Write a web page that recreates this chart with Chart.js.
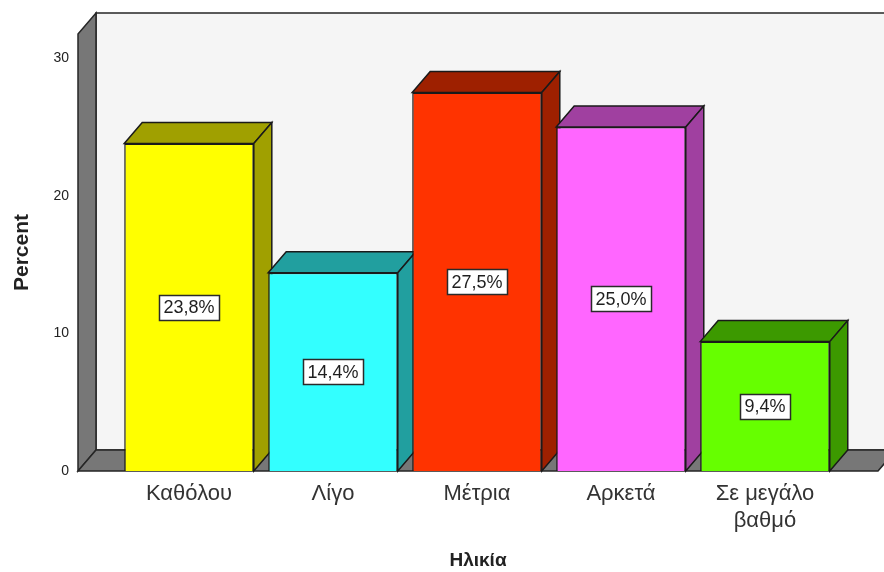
<!DOCTYPE html>
<html>
<head>
<meta charset="utf-8">
<script src="https://cdn.jsdelivr.net/npm/chart.js@4/dist/chart.umd.min.js"></script>
<style>
  html, body { margin: 0; padding: 0; background: #ffffff; }
  #wrap { width: 884px; height: 572px; }
</style>
</head>
<body>
<div id="wrap"><canvas id="c" width="884" height="572"></canvas></div>
<script>
// Response categories (multi-line where the label wraps)
const categories = [['Καθόλου'], ['Λίγο'], ['Μέτρια'], ['Αρκετά'], ['Σε μεγάλο', 'βαθμό']];
// Percent of respondents per category
const percentValues = [23.8, 14.4, 27.5, 25.0, 9.4];
// Value-axis tick labels
const yTicks = [0, 10, 20, 30];

// Front faces and darker top/side faces of each box
const frontColors = ['#ffff00', '#33ffff', '#ff3300', '#ff66ff', '#66ff00'];
const shadeColors = ['#a0a000', '#219f9f', '#9e2000', '#a040a0', '#3c9900'];

// Oblique depth of the 3D frame and boxes
const DX = 18, DY = 21;
const FONT = "'Liberation Sans', Arial, sans-serif";

function poly(ctx, pts, fill) {
  ctx.beginPath();
  ctx.moveTo(pts[0][0], pts[0][1]);
  for (let k = 1; k < pts.length; k++) ctx.lineTo(pts[k][0], pts[k][1]);
  ctx.closePath();
  ctx.fillStyle = fill;
  ctx.fill();
  ctx.stroke();
}

const box3d = {
  id: 'box3d',
  beforeDatasetsDraw(chart) {
    const { ctx, chartArea: a } = chart;
    ctx.save();
    ctx.lineJoin = 'miter';
    ctx.strokeStyle = '#262626';
    ctx.lineWidth = 1.5;
    // back wall
    ctx.beginPath();
    ctx.rect(a.left + DX, a.top - DY, a.right - a.left, a.bottom - a.top);
    ctx.fillStyle = '#f5f5f5';
    ctx.fill();
    ctx.stroke();
    // side wall and floor
    poly(ctx, [[a.left, a.top], [a.left + DX, a.top - DY], [a.left + DX, a.bottom - DY], [a.left, a.bottom]], '#777777');
    poly(ctx, [[a.left, a.bottom], [a.left + DX, a.bottom - DY], [a.right + DX, a.bottom - DY], [a.right, a.bottom]], '#777777');
    // top and right faces of every box
    ctx.lineWidth = 1.5;
    ctx.strokeStyle = '#1a1a1a';
    chart.getDatasetMeta(0).data.forEach((bar, i) => {
      const { x, y, base, width } = bar.getProps(['x', 'y', 'base', 'width'], true);
      const l = x - width / 2, r = x + width / 2;
      poly(ctx, [[l, y], [l + DX, y - DY], [r + DX, y - DY], [r, y]], shadeColors[i]);
      poly(ctx, [[r, y], [r + DX, y - DY], [r + DX, base - DY], [r, base]], shadeColors[i]);
    });
    ctx.restore();
  },
  afterDatasetsDraw(chart) {
    const { ctx } = chart;
    ctx.save();
    ctx.font = '18px ' + FONT;
    ctx.textAlign = 'center';
    ctx.textBaseline = 'middle';
    chart.getDatasetMeta(0).data.forEach((bar, i) => {
      const { x, y, base } = bar.getProps(['x', 'y', 'base'], true);
      const text = percentValues[i].toFixed(1).replace('.', ',') + '%';
      const w = Math.round(ctx.measureText(text).width + 9);
      const h = 25;
      const cy = (y + base) / 2;
      const bx = Math.round(x - w / 2) + 0.5, by = Math.round(cy - h / 2) + 0.5;
      ctx.fillStyle = '#ffffff';
      ctx.fillRect(bx, by, w, h);
      ctx.strokeStyle = '#2a2a2a';
      ctx.lineWidth = 1.5;
      ctx.strokeRect(bx, by, w, h);
      ctx.fillStyle = '#1e1e1e';
      ctx.fillText(text, x, cy + 1);
    });
    ctx.restore();
  }
};

new Chart(document.getElementById('c'), {
  type: 'bar',
  data: {
    datasets: [{
      data: categories.map((c, i) => ({ x: i, y: percentValues[i] })),
      backgroundColor: frontColors,
      borderColor: '#1a1a1a',
      borderWidth: 1.5,
      barPercentage: 0.9,
      categoryPercentage: 1
    }]
  },
  options: {
    responsive: false,
    animation: false,
    devicePixelRatio: 1,
    layout: { padding: { top: 34, right: 6, left: 0, bottom: 0 } },
    plugins: { legend: { display: false }, tooltip: { enabled: false } },
    scales: {
      x: {
        type: 'linear',
        offset: false,
        min: -0.771,
        max: 4.785,
        grid: { display: false, drawTicks: false, offset: false },
        border: { display: false },
        afterBuildTicks: s => { s.ticks = categories.map((c, i) => ({ value: i })); },
        afterFit: s => { s.height = 101; },
        ticks: {
          autoSkip: false,
          maxRotation: 0,
          padding: 10,
          color: '#333333',
          font: { family: FONT, size: 22 },
          callback: v => categories[v]
        },
        title: {
          display: true,
          text: 'Ηλικία',
          color: '#222222',
          font: { family: FONT, size: 19, weight: 'bold' },
          padding: { top: 0, bottom: 0 }
        }
      },
      y: {
        min: 0,
        max: 31.75,
        grid: { display: false, drawTicks: false },
        border: { display: false },
        afterBuildTicks: s => { s.ticks = yTicks.map(v => ({ value: v })); },
        afterFit: s => { s.width = 78; },
        ticks: {
          padding: 9,
          color: '#222222',
          font: { family: FONT, size: 14 }
        },
        title: {
          display: true,
          text: 'Percent',
          color: '#222222',
          font: { family: FONT, size: 21, weight: 'bold' },
          padding: { top: 10, bottom: 0 }
        }
      }
    }
  },
  plugins: [box3d]
});
</script>
</body>
</html>
